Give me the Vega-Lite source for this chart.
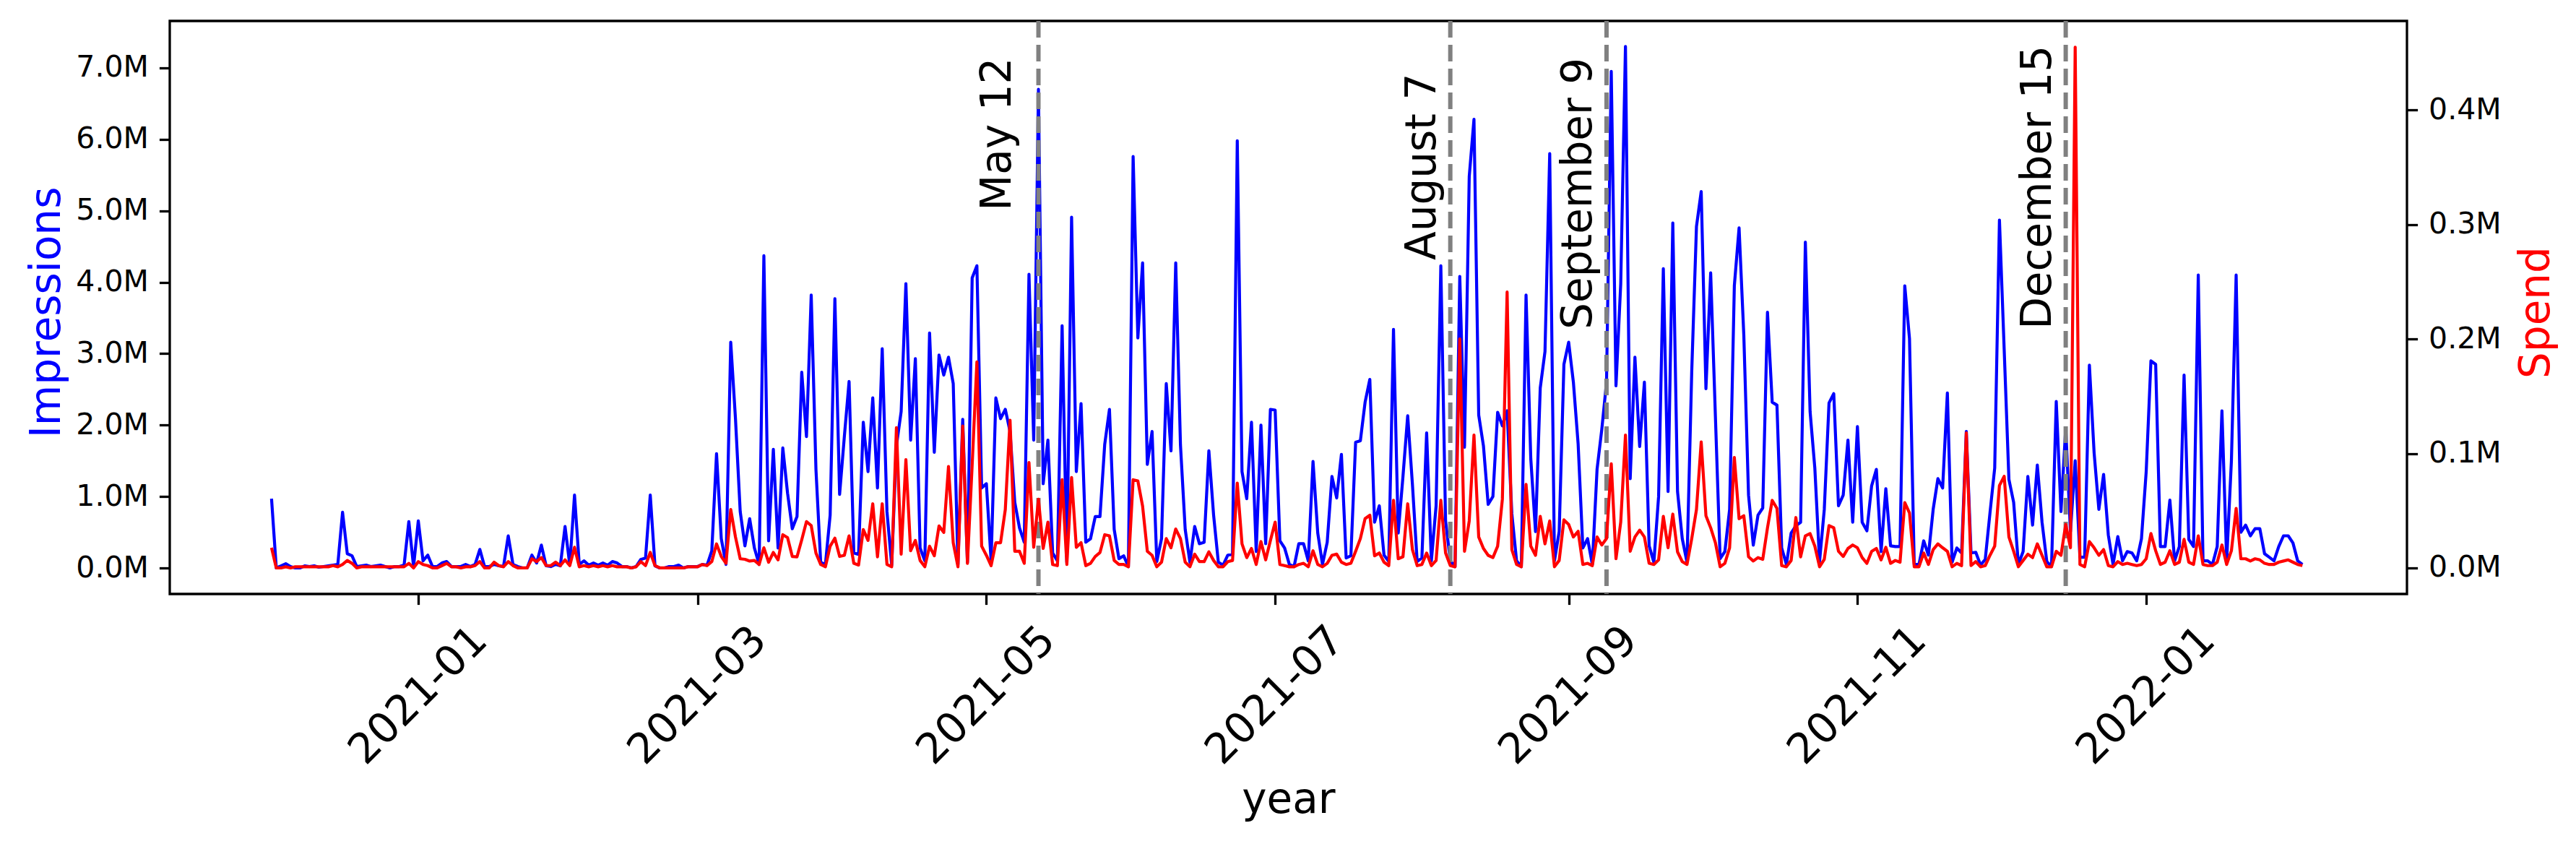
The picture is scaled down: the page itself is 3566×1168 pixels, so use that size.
{
  "$schema": "https://vega.github.io/schema/vega-lite/v6.json",
  "width": 3097,
  "height": 793,
  "autosize": {"type": "none"},
  "padding": {"left": 235, "top": 29, "right": 234, "bottom": 346},
  "background": "white",
  "config": {
    "font": "DejaVu Sans",
    "view": {"stroke": "black", "strokeWidth": 3.3},
    "axis": {"grid": false, "domain": false, "tickColor": "black", "tickWidth": 3.3, "tickSize": 14.6, "labelColor": "black", "labelFont": "DejaVu Sans", "titleFont": "DejaVu Sans", "titleFontWeight": "normal", "labelOverlap": false, "labelFlush": false, "labelLimit": 0, "titleLimit": 0}
  },
  "datasets": {
    "daily": [
{"date":"2020-12-01","impressions":970000,"spend":17600},
{"date":"2020-12-02","impressions":0,"spend":0},
{"date":"2020-12-03","impressions":30000,"spend":0},
{"date":"2020-12-04","impressions":60000,"spend":1000},
{"date":"2020-12-05","impressions":20000,"spend":0},
{"date":"2020-12-06","impressions":0,"spend":1000},
{"date":"2020-12-07","impressions":0,"spend":1000},
{"date":"2020-12-08","impressions":30000,"spend":1000},
{"date":"2020-12-09","impressions":20000,"spend":1000},
{"date":"2020-12-10","impressions":30000,"spend":1000},
{"date":"2020-12-11","impressions":10000,"spend":1000},
{"date":"2020-12-12","impressions":20000,"spend":1000},
{"date":"2020-12-13","impressions":30000,"spend":1000},
{"date":"2020-12-14","impressions":40000,"spend":2000},
{"date":"2020-12-15","impressions":50000,"spend":1000},
{"date":"2020-12-16","impressions":780000,"spend":3000},
{"date":"2020-12-17","impressions":200000,"spend":6500},
{"date":"2020-12-18","impressions":170000,"spend":4000},
{"date":"2020-12-19","impressions":20000,"spend":0},
{"date":"2020-12-20","impressions":30000,"spend":1000},
{"date":"2020-12-21","impressions":40000,"spend":1000},
{"date":"2020-12-22","impressions":20000,"spend":1000},
{"date":"2020-12-23","impressions":30000,"spend":1000},
{"date":"2020-12-24","impressions":40000,"spend":1000},
{"date":"2020-12-25","impressions":20000,"spend":1000},
{"date":"2020-12-26","impressions":0,"spend":1000},
{"date":"2020-12-27","impressions":20000,"spend":1000},
{"date":"2020-12-28","impressions":20000,"spend":1000},
{"date":"2020-12-29","impressions":40000,"spend":1000},
{"date":"2020-12-30","impressions":650000,"spend":4000},
{"date":"2020-12-31","impressions":20000,"spend":0},
{"date":"2021-01-01","impressions":660000,"spend":5500},
{"date":"2021-01-02","impressions":100000,"spend":3000},
{"date":"2021-01-03","impressions":180000,"spend":2000},
{"date":"2021-01-04","impressions":20000,"spend":0},
{"date":"2021-01-05","impressions":20000,"spend":0},
{"date":"2021-01-06","impressions":70000,"spend":2000},
{"date":"2021-01-07","impressions":90000,"spend":4000},
{"date":"2021-01-08","impressions":20000,"spend":1000},
{"date":"2021-01-09","impressions":20000,"spend":1000},
{"date":"2021-01-10","impressions":20000,"spend":0},
{"date":"2021-01-11","impressions":50000,"spend":1000},
{"date":"2021-01-12","impressions":20000,"spend":1000},
{"date":"2021-01-13","impressions":50000,"spend":2000},
{"date":"2021-01-14","impressions":260000,"spend":5500},
{"date":"2021-01-15","impressions":20000,"spend":0},
{"date":"2021-01-16","impressions":20000,"spend":0},
{"date":"2021-01-17","impressions":50000,"spend":5000},
{"date":"2021-01-18","impressions":30000,"spend":2000},
{"date":"2021-01-19","impressions":20000,"spend":1000},
{"date":"2021-01-20","impressions":450000,"spend":5500},
{"date":"2021-01-21","impressions":50000,"spend":2000},
{"date":"2021-01-22","impressions":20000,"spend":0},
{"date":"2021-01-23","impressions":0,"spend":0},
{"date":"2021-01-24","impressions":0,"spend":0},
{"date":"2021-01-25","impressions":180000,"spend":8000},
{"date":"2021-01-26","impressions":70000,"spend":5500},
{"date":"2021-01-27","impressions":320000,"spend":9000},
{"date":"2021-01-28","impressions":30000,"spend":2000},
{"date":"2021-01-29","impressions":20000,"spend":2000},
{"date":"2021-01-30","impressions":50000,"spend":5000},
{"date":"2021-01-31","impressions":30000,"spend":2000},
{"date":"2021-02-01","impressions":580000,"spend":7000},
{"date":"2021-02-02","impressions":40000,"spend":2000},
{"date":"2021-02-03","impressions":1020000,"spend":18000},
{"date":"2021-02-04","impressions":50000,"spend":1000},
{"date":"2021-02-05","impressions":100000,"spend":2000},
{"date":"2021-02-06","impressions":40000,"spend":1000},
{"date":"2021-02-07","impressions":70000,"spend":2000},
{"date":"2021-02-08","impressions":40000,"spend":1000},
{"date":"2021-02-09","impressions":70000,"spend":2000},
{"date":"2021-02-10","impressions":40000,"spend":1000},
{"date":"2021-02-11","impressions":90000,"spend":2000},
{"date":"2021-02-12","impressions":70000,"spend":1000},
{"date":"2021-02-13","impressions":20000,"spend":1000},
{"date":"2021-02-14","impressions":20000,"spend":1000},
{"date":"2021-02-15","impressions":0,"spend":0},
{"date":"2021-02-16","impressions":20000,"spend":1000},
{"date":"2021-02-17","impressions":120000,"spend":5500},
{"date":"2021-02-18","impressions":140000,"spend":2000},
{"date":"2021-02-19","impressions":1020000,"spend":13500},
{"date":"2021-02-20","impressions":30000,"spend":2000},
{"date":"2021-02-21","impressions":0,"spend":0},
{"date":"2021-02-22","impressions":0,"spend":0},
{"date":"2021-02-23","impressions":20000,"spend":0},
{"date":"2021-02-24","impressions":20000,"spend":0},
{"date":"2021-02-25","impressions":40000,"spend":0},
{"date":"2021-02-26","impressions":0,"spend":0},
{"date":"2021-02-27","impressions":20000,"spend":1000},
{"date":"2021-02-28","impressions":20000,"spend":1000},
{"date":"2021-03-01","impressions":20000,"spend":1000},
{"date":"2021-03-02","impressions":50000,"spend":3000},
{"date":"2021-03-03","impressions":40000,"spend":2000},
{"date":"2021-03-04","impressions":240000,"spend":5500},
{"date":"2021-03-05","impressions":1600000,"spend":21000},
{"date":"2021-03-06","impressions":410000,"spend":10000},
{"date":"2021-03-07","impressions":50000,"spend":4000},
{"date":"2021-03-08","impressions":3160000,"spend":51000},
{"date":"2021-03-09","impressions":2090000,"spend":27000},
{"date":"2021-03-10","impressions":790000,"spend":8000},
{"date":"2021-03-11","impressions":310000,"spend":7500},
{"date":"2021-03-12","impressions":690000,"spend":6000},
{"date":"2021-03-13","impressions":280000,"spend":6500},
{"date":"2021-03-14","impressions":50000,"spend":3000},
{"date":"2021-03-15","impressions":4370000,"spend":17600},
{"date":"2021-03-16","impressions":380000,"spend":5000},
{"date":"2021-03-17","impressions":1660000,"spend":13500},
{"date":"2021-03-18","impressions":280000,"spend":7000},
{"date":"2021-03-19","impressions":1680000,"spend":29000},
{"date":"2021-03-20","impressions":1050000,"spend":26500},
{"date":"2021-03-21","impressions":550000,"spend":10000},
{"date":"2021-03-22","impressions":720000,"spend":9700},
{"date":"2021-03-23","impressions":2740000,"spend":24600},
{"date":"2021-03-24","impressions":1840000,"spend":40500},
{"date":"2021-03-25","impressions":3820000,"spend":37000},
{"date":"2021-03-26","impressions":1380000,"spend":13000},
{"date":"2021-03-27","impressions":80000,"spend":3000},
{"date":"2021-03-28","impressions":50000,"spend":1000},
{"date":"2021-03-29","impressions":740000,"spend":19000},
{"date":"2021-03-30","impressions":3770000,"spend":26000},
{"date":"2021-03-31","impressions":1030000,"spend":10000},
{"date":"2021-04-01","impressions":1840000,"spend":11000},
{"date":"2021-04-02","impressions":2610000,"spend":28000},
{"date":"2021-04-03","impressions":210000,"spend":4000},
{"date":"2021-04-04","impressions":190000,"spend":2500},
{"date":"2021-04-05","impressions":2040000,"spend":33500},
{"date":"2021-04-06","impressions":1350000,"spend":24000},
{"date":"2021-04-07","impressions":2380000,"spend":56000},
{"date":"2021-04-08","impressions":1120000,"spend":9700},
{"date":"2021-04-09","impressions":3070000,"spend":56000},
{"date":"2021-04-10","impressions":790000,"spend":3000},
{"date":"2021-04-11","impressions":40000,"spend":1000},
{"date":"2021-04-12","impressions":1710000,"spend":122600},
{"date":"2021-04-13","impressions":2190000,"spend":12000},
{"date":"2021-04-14","impressions":3980000,"spend":94600},
{"date":"2021-04-15","impressions":1790000,"spend":15000},
{"date":"2021-04-16","impressions":2930000,"spend":24000},
{"date":"2021-04-17","impressions":280000,"spend":6500},
{"date":"2021-04-18","impressions":100000,"spend":1000},
{"date":"2021-04-19","impressions":3290000,"spend":19000},
{"date":"2021-04-20","impressions":1620000,"spend":10600},
{"date":"2021-04-21","impressions":2980000,"spend":36700},
{"date":"2021-04-22","impressions":2700000,"spend":31000},
{"date":"2021-04-23","impressions":2950000,"spend":88600},
{"date":"2021-04-24","impressions":2580000,"spend":22000},
{"date":"2021-04-25","impressions":50000,"spend":1000},
{"date":"2021-04-26","impressions":2080000,"spend":124000},
{"date":"2021-04-27","impressions":80000,"spend":4000},
{"date":"2021-04-28","impressions":4060000,"spend":90000},
{"date":"2021-04-29","impressions":4230000,"spend":180000},
{"date":"2021-04-30","impressions":1120000,"spend":19000},
{"date":"2021-05-01","impressions":1180000,"spend":11000},
{"date":"2021-05-02","impressions":100000,"spend":2000},
{"date":"2021-05-03","impressions":2380000,"spend":22000},
{"date":"2021-05-04","impressions":2090000,"spend":22000},
{"date":"2021-05-05","impressions":2220000,"spend":51000},
{"date":"2021-05-06","impressions":1910000,"spend":129000},
{"date":"2021-05-07","impressions":920000,"spend":14500},
{"date":"2021-05-08","impressions":560000,"spend":14500},
{"date":"2021-05-09","impressions":360000,"spend":4000},
{"date":"2021-05-10","impressions":4110000,"spend":92000},
{"date":"2021-05-11","impressions":1790000,"spend":18000},
{"date":"2021-05-12","impressions":6700000,"spend":60000},
{"date":"2021-05-13","impressions":1180000,"spend":17000},
{"date":"2021-05-14","impressions":1790000,"spend":40000},
{"date":"2021-05-15","impressions":210000,"spend":3000},
{"date":"2021-05-16","impressions":100000,"spend":2000},
{"date":"2021-05-17","impressions":3390000,"spend":77000},
{"date":"2021-05-18","impressions":80000,"spend":3000},
{"date":"2021-05-19","impressions":4910000,"spend":79000},
{"date":"2021-05-20","impressions":1350000,"spend":18000},
{"date":"2021-05-21","impressions":2300000,"spend":22000},
{"date":"2021-05-22","impressions":360000,"spend":2000},
{"date":"2021-05-23","impressions":410000,"spend":4000},
{"date":"2021-05-24","impressions":720000,"spend":10000},
{"date":"2021-05-25","impressions":720000,"spend":13500},
{"date":"2021-05-26","impressions":1730000,"spend":29000},
{"date":"2021-05-27","impressions":2220000,"spend":28000},
{"date":"2021-05-28","impressions":540000,"spend":6500},
{"date":"2021-05-29","impressions":130000,"spend":3000},
{"date":"2021-05-30","impressions":170000,"spend":3000},
{"date":"2021-05-31","impressions":20000,"spend":1000},
{"date":"2021-06-01","impressions":5760000,"spend":77000},
{"date":"2021-06-02","impressions":3220000,"spend":76000},
{"date":"2021-06-03","impressions":4270000,"spend":54000},
{"date":"2021-06-04","impressions":1450000,"spend":14500},
{"date":"2021-06-05","impressions":1910000,"spend":11000},
{"date":"2021-06-06","impressions":90000,"spend":1000},
{"date":"2021-06-07","impressions":410000,"spend":5000},
{"date":"2021-06-08","impressions":2580000,"spend":25600},
{"date":"2021-06-09","impressions":1640000,"spend":17600},
{"date":"2021-06-10","impressions":4270000,"spend":34000},
{"date":"2021-06-11","impressions":1720000,"spend":25600},
{"date":"2021-06-12","impressions":540000,"spend":5000},
{"date":"2021-06-13","impressions":80000,"spend":1000},
{"date":"2021-06-14","impressions":580000,"spend":12000},
{"date":"2021-06-15","impressions":340000,"spend":5500},
{"date":"2021-06-16","impressions":360000,"spend":5500},
{"date":"2021-06-17","impressions":1640000,"spend":14000},
{"date":"2021-06-18","impressions":740000,"spend":6500},
{"date":"2021-06-19","impressions":80000,"spend":1000},
{"date":"2021-06-20","impressions":40000,"spend":1000},
{"date":"2021-06-21","impressions":180000,"spend":5500},
{"date":"2021-06-22","impressions":190000,"spend":6500},
{"date":"2021-06-23","impressions":5980000,"spend":74000},
{"date":"2021-06-24","impressions":1350000,"spend":21000},
{"date":"2021-06-25","impressions":970000,"spend":9000},
{"date":"2021-06-26","impressions":2040000,"spend":17000},
{"date":"2021-06-27","impressions":230000,"spend":3000},
{"date":"2021-06-28","impressions":2000000,"spend":23000},
{"date":"2021-06-29","impressions":340000,"spend":7000},
{"date":"2021-06-30","impressions":2220000,"spend":24000},
{"date":"2021-07-01","impressions":2210000,"spend":40000},
{"date":"2021-07-02","impressions":380000,"spend":3000},
{"date":"2021-07-03","impressions":280000,"spend":2000},
{"date":"2021-07-04","impressions":50000,"spend":1000},
{"date":"2021-07-05","impressions":20000,"spend":1000},
{"date":"2021-07-06","impressions":340000,"spend":3000},
{"date":"2021-07-07","impressions":340000,"spend":4000},
{"date":"2021-07-08","impressions":100000,"spend":1000},
{"date":"2021-07-09","impressions":1490000,"spend":15000},
{"date":"2021-07-10","impressions":490000,"spend":3000},
{"date":"2021-07-11","impressions":50000,"spend":1000},
{"date":"2021-07-12","impressions":360000,"spend":4000},
{"date":"2021-07-13","impressions":1280000,"spend":11000},
{"date":"2021-07-14","impressions":980000,"spend":12000},
{"date":"2021-07-15","impressions":1590000,"spend":5000},
{"date":"2021-07-16","impressions":140000,"spend":3000},
{"date":"2021-07-17","impressions":170000,"spend":4000},
{"date":"2021-07-18","impressions":1760000,"spend":14500},
{"date":"2021-07-19","impressions":1780000,"spend":25600},
{"date":"2021-07-20","impressions":2320000,"spend":43000},
{"date":"2021-07-21","impressions":2640000,"spend":46000},
{"date":"2021-07-22","impressions":640000,"spend":10600},
{"date":"2021-07-23","impressions":870000,"spend":13000},
{"date":"2021-07-24","impressions":180000,"spend":5000},
{"date":"2021-07-25","impressions":90000,"spend":2000},
{"date":"2021-07-26","impressions":3340000,"spend":59000},
{"date":"2021-07-27","impressions":490000,"spend":8000},
{"date":"2021-07-28","impressions":1280000,"spend":9700},
{"date":"2021-07-29","impressions":2130000,"spend":56000},
{"date":"2021-07-30","impressions":1170000,"spend":16000},
{"date":"2021-07-31","impressions":90000,"spend":2000},
{"date":"2021-08-01","impressions":140000,"spend":3000},
{"date":"2021-08-02","impressions":1890000,"spend":13000},
{"date":"2021-08-03","impressions":100000,"spend":2000},
{"date":"2021-08-04","impressions":870000,"spend":6500},
{"date":"2021-08-05","impressions":4230000,"spend":59000},
{"date":"2021-08-06","impressions":660000,"spend":13000},
{"date":"2021-08-07","impressions":100000,"spend":2000},
{"date":"2021-08-08","impressions":20000,"spend":1000},
{"date":"2021-08-09","impressions":4080000,"spend":200000},
{"date":"2021-08-10","impressions":1690000,"spend":14500},
{"date":"2021-08-11","impressions":5480000,"spend":41000},
{"date":"2021-08-12","impressions":6280000,"spend":116000},
{"date":"2021-08-13","impressions":2140000,"spend":27000},
{"date":"2021-08-14","impressions":1710000,"spend":17000},
{"date":"2021-08-15","impressions":890000,"spend":11000},
{"date":"2021-08-16","impressions":1000000,"spend":9000},
{"date":"2021-08-17","impressions":2180000,"spend":19000},
{"date":"2021-08-18","impressions":1990000,"spend":60000},
{"date":"2021-08-19","impressions":2200000,"spend":241000},
{"date":"2021-08-20","impressions":760000,"spend":16000},
{"date":"2021-08-21","impressions":100000,"spend":3000},
{"date":"2021-08-22","impressions":20000,"spend":1000},
{"date":"2021-08-23","impressions":3820000,"spend":73000},
{"date":"2021-08-24","impressions":1530000,"spend":19000},
{"date":"2021-08-25","impressions":510000,"spend":11000},
{"date":"2021-08-26","impressions":2520000,"spend":45000},
{"date":"2021-08-27","impressions":3030000,"spend":21000},
{"date":"2021-08-28","impressions":5800000,"spend":41000},
{"date":"2021-08-29","impressions":100000,"spend":1000},
{"date":"2021-08-30","impressions":510000,"spend":6500},
{"date":"2021-08-31","impressions":2850000,"spend":42000},
{"date":"2021-09-01","impressions":3160000,"spend":38000},
{"date":"2021-09-02","impressions":2600000,"spend":27000},
{"date":"2021-09-03","impressions":1740000,"spend":32000},
{"date":"2021-09-04","impressions":280000,"spend":3000},
{"date":"2021-09-05","impressions":410000,"spend":4000},
{"date":"2021-09-06","impressions":50000,"spend":2000},
{"date":"2021-09-07","impressions":1380000,"spend":27000},
{"date":"2021-09-08","impressions":1940000,"spend":20000},
{"date":"2021-09-09","impressions":2600000,"spend":25600},
{"date":"2021-09-10","impressions":6950000,"spend":91000},
{"date":"2021-09-11","impressions":2550000,"spend":8000},
{"date":"2021-09-12","impressions":3980000,"spend":40000},
{"date":"2021-09-13","impressions":7300000,"spend":116000},
{"date":"2021-09-14","impressions":1250000,"spend":14500},
{"date":"2021-09-15","impressions":2950000,"spend":27000},
{"date":"2021-09-16","impressions":1700000,"spend":33000},
{"date":"2021-09-17","impressions":2600000,"spend":27000},
{"date":"2021-09-18","impressions":310000,"spend":4000},
{"date":"2021-09-19","impressions":80000,"spend":3000},
{"date":"2021-09-20","impressions":1000000,"spend":7000},
{"date":"2021-09-21","impressions":4190000,"spend":45000},
{"date":"2021-09-22","impressions":1070000,"spend":17600},
{"date":"2021-09-23","impressions":4830000,"spend":47000},
{"date":"2021-09-24","impressions":1070000,"spend":14000},
{"date":"2021-09-25","impressions":410000,"spend":5500},
{"date":"2021-09-26","impressions":80000,"spend":3000},
{"date":"2021-09-27","impressions":2750000,"spend":25600},
{"date":"2021-09-28","impressions":4780000,"spend":51000},
{"date":"2021-09-29","impressions":5270000,"spend":110000},
{"date":"2021-09-30","impressions":2510000,"spend":45600},
{"date":"2021-10-01","impressions":4130000,"spend":35000},
{"date":"2021-10-02","impressions":2120000,"spend":22000},
{"date":"2021-10-03","impressions":130000,"spend":1000},
{"date":"2021-10-04","impressions":230000,"spend":4000},
{"date":"2021-10-05","impressions":820000,"spend":17600},
{"date":"2021-10-06","impressions":3950000,"spend":96500},
{"date":"2021-10-07","impressions":4760000,"spend":43000},
{"date":"2021-10-08","impressions":3260000,"spend":45600},
{"date":"2021-10-09","impressions":1020000,"spend":9700},
{"date":"2021-10-10","impressions":320000,"spend":6000},
{"date":"2021-10-11","impressions":740000,"spend":9000},
{"date":"2021-10-12","impressions":840000,"spend":7500},
{"date":"2021-10-13","impressions":3580000,"spend":35000},
{"date":"2021-10-14","impressions":2320000,"spend":59000},
{"date":"2021-10-15","impressions":2280000,"spend":52000},
{"date":"2021-10-16","impressions":280000,"spend":2000},
{"date":"2021-10-17","impressions":50000,"spend":1000},
{"date":"2021-10-18","impressions":490000,"spend":6500},
{"date":"2021-10-19","impressions":590000,"spend":44000},
{"date":"2021-10-20","impressions":640000,"spend":9700},
{"date":"2021-10-21","impressions":4560000,"spend":28000},
{"date":"2021-10-22","impressions":2190000,"spend":30000},
{"date":"2021-10-23","impressions":1400000,"spend":19000},
{"date":"2021-10-24","impressions":90000,"spend":1000},
{"date":"2021-10-25","impressions":820000,"spend":7500},
{"date":"2021-10-26","impressions":2310000,"spend":37000},
{"date":"2021-10-27","impressions":2440000,"spend":35000},
{"date":"2021-10-28","impressions":870000,"spend":14500},
{"date":"2021-10-29","impressions":1020000,"spend":10000},
{"date":"2021-10-30","impressions":1790000,"spend":17000},
{"date":"2021-10-31","impressions":640000,"spend":20000},
{"date":"2021-11-01","impressions":1980000,"spend":17600},
{"date":"2021-11-02","impressions":640000,"spend":9000},
{"date":"2021-11-03","impressions":520000,"spend":4000},
{"date":"2021-11-04","impressions":1150000,"spend":14500},
{"date":"2021-11-05","impressions":1380000,"spend":17000},
{"date":"2021-11-06","impressions":230000,"spend":7000},
{"date":"2021-11-07","impressions":1110000,"spend":18000},
{"date":"2021-11-08","impressions":310000,"spend":4000},
{"date":"2021-11-09","impressions":300000,"spend":6500},
{"date":"2021-11-10","impressions":300000,"spend":5000},
{"date":"2021-11-11","impressions":3950000,"spend":57000},
{"date":"2021-11-12","impressions":3210000,"spend":48000},
{"date":"2021-11-13","impressions":50000,"spend":1000},
{"date":"2021-11-14","impressions":50000,"spend":1000},
{"date":"2021-11-15","impressions":380000,"spend":13000},
{"date":"2021-11-16","impressions":180000,"spend":3000},
{"date":"2021-11-17","impressions":820000,"spend":16000},
{"date":"2021-11-18","impressions":1250000,"spend":21000},
{"date":"2021-11-19","impressions":1120000,"spend":17600},
{"date":"2021-11-20","impressions":2450000,"spend":14500},
{"date":"2021-11-21","impressions":80000,"spend":1000},
{"date":"2021-11-22","impressions":280000,"spend":4000},
{"date":"2021-11-23","impressions":210000,"spend":2000},
{"date":"2021-11-24","impressions":1910000,"spend":118000},
{"date":"2021-11-25","impressions":210000,"spend":2000},
{"date":"2021-11-26","impressions":220000,"spend":5500},
{"date":"2021-11-27","impressions":40000,"spend":1000},
{"date":"2021-11-28","impressions":120000,"spend":2000},
{"date":"2021-11-29","impressions":770000,"spend":11000},
{"date":"2021-11-30","impressions":1400000,"spend":19000},
{"date":"2021-12-01","impressions":4870000,"spend":72000},
{"date":"2021-12-02","impressions":3060000,"spend":80000},
{"date":"2021-12-03","impressions":1240000,"spend":27000},
{"date":"2021-12-04","impressions":920000,"spend":14500},
{"date":"2021-12-05","impressions":50000,"spend":1000},
{"date":"2021-12-06","impressions":230000,"spend":6500},
{"date":"2021-12-07","impressions":1280000,"spend":12000},
{"date":"2021-12-08","impressions":600000,"spend":9000},
{"date":"2021-12-09","impressions":1440000,"spend":21000},
{"date":"2021-12-10","impressions":640000,"spend":11000},
{"date":"2021-12-11","impressions":90000,"spend":1000},
{"date":"2021-12-12","impressions":20000,"spend":1000},
{"date":"2021-12-13","impressions":2330000,"spend":14500},
{"date":"2021-12-14","impressions":790000,"spend":11000},
{"date":"2021-12-15","impressions":1960000,"spend":38000},
{"date":"2021-12-16","impressions":510000,"spend":17600},
{"date":"2021-12-17","impressions":1500000,"spend":455000},
{"date":"2021-12-18","impressions":150000,"spend":3000},
{"date":"2021-12-19","impressions":150000,"spend":1000},
{"date":"2021-12-20","impressions":2840000,"spend":23000},
{"date":"2021-12-21","impressions":1610000,"spend":17600},
{"date":"2021-12-22","impressions":820000,"spend":11000},
{"date":"2021-12-23","impressions":1310000,"spend":16000},
{"date":"2021-12-24","impressions":460000,"spend":2000},
{"date":"2021-12-25","impressions":50000,"spend":1000},
{"date":"2021-12-26","impressions":440000,"spend":5500},
{"date":"2021-12-27","impressions":100000,"spend":3000},
{"date":"2021-12-28","impressions":230000,"spend":4000},
{"date":"2021-12-29","impressions":210000,"spend":3000},
{"date":"2021-12-30","impressions":100000,"spend":2000},
{"date":"2021-12-31","impressions":410000,"spend":3000},
{"date":"2022-01-01","impressions":1350000,"spend":8000},
{"date":"2022-01-02","impressions":2900000,"spend":30000},
{"date":"2022-01-03","impressions":2850000,"spend":15000},
{"date":"2022-01-04","impressions":300000,"spend":3000},
{"date":"2022-01-05","impressions":300000,"spend":5000},
{"date":"2022-01-06","impressions":950000,"spend":15000},
{"date":"2022-01-07","impressions":100000,"spend":3000},
{"date":"2022-01-08","impressions":300000,"spend":5000},
{"date":"2022-01-09","impressions":2700000,"spend":25000},
{"date":"2022-01-10","impressions":400000,"spend":5000},
{"date":"2022-01-11","impressions":300000,"spend":3000},
{"date":"2022-01-12","impressions":4100000,"spend":28000},
{"date":"2022-01-13","impressions":100000,"spend":3000},
{"date":"2022-01-14","impressions":100000,"spend":2000},
{"date":"2022-01-15","impressions":50000,"spend":2000},
{"date":"2022-01-16","impressions":300000,"spend":5000},
{"date":"2022-01-17","impressions":2200000,"spend":20000},
{"date":"2022-01-18","impressions":100000,"spend":3000},
{"date":"2022-01-19","impressions":1500000,"spend":15000},
{"date":"2022-01-20","impressions":4100000,"spend":52000},
{"date":"2022-01-21","impressions":500000,"spend":8000},
{"date":"2022-01-22","impressions":600000,"spend":8000},
{"date":"2022-01-23","impressions":450000,"spend":6000},
{"date":"2022-01-24","impressions":550000,"spend":8000},
{"date":"2022-01-25","impressions":550000,"spend":7000},
{"date":"2022-01-26","impressions":200000,"spend":4000},
{"date":"2022-01-27","impressions":150000,"spend":3000},
{"date":"2022-01-28","impressions":100000,"spend":3000},
{"date":"2022-01-29","impressions":300000,"spend":5000},
{"date":"2022-01-30","impressions":450000,"spend":6000},
{"date":"2022-01-31","impressions":450000,"spend":7000},
{"date":"2022-02-01","impressions":350000,"spend":5000},
{"date":"2022-02-02","impressions":100000,"spend":3000},
{"date":"2022-02-03","impressions":50000,"spend":2000}
    ],
    "events": [
      {"date":"2021-05-12","label":"May 12","level":5000000},
      {"date":"2021-08-07","label":"August 7","level":4310000},
      {"date":"2021-09-09","label":"September 9","level":3340000},
      {"date":"2021-12-15","label":"December 15","level":3340000}
    ]
  },
  "encoding": {
    "x": {
      "field": "date", "type": "temporal",
      "scale": {"domain": [{"year": 2020, "month": 11, "date": 9, "hours": 12}, {"year": 2022, "month": 2, "date": 25, "hours": 2}]},
      "axis": {
        "title": "year", "titleFontSize": 58, "titleColor": "black", "titleBaseline": "alphabetic", "titleY": 302,
        "format": "%Y-%m", "labelFontSize": 58, "labelAngle": -45, "labelAlign": "center", "labelBaseline": "middle", "labelPadding": 126,
        "values": [{"year": 2021, "month": 1, "date": 1}, {"year": 2021, "month": 3, "date": 1}, {"year": 2021, "month": 5, "date": 1}, {"year": 2021, "month": 7, "date": 1}, {"year": 2021, "month": 9, "date": 1}, {"year": 2021, "month": 11, "date": 1}, {"year": 2022, "month": 1, "date": 1}]
      }
    }
  },
  "layer": [
    {
      "data": {"name": "daily"},
      "mark": {"type": "line", "color": "#0000ff", "strokeWidth": 4.2, "strokeJoin": "round"},
      "encoding": {
        "y": {
          "field": "impressions", "type": "quantitative",
          "scale": {"domain": [-364000, 7657000], "nice": false, "zero": false},
          "axis": {
            "orient": "left", "values": [0, 1000000, 2000000, 3000000, 4000000, 5000000, 6000000, 7000000],
            "labelExpr": "format(datum.value / 1000000, '.1f') + 'M'", "labelFontSize": 41, "labelPadding": 15,
            "title": "Impressions", "titleColor": "#0000ff", "titleFontSize": 58, "titleAngle": 270, "titleBaseline": "alphabetic", "titleAlign": "center", "titleX": -153, "titleY": 403
          }
        }
      }
    },
    {
      "data": {"name": "events"},
      "mark": {"type": "rule", "color": "#808080", "strokeWidth": 6, "strokeDash": [23, 10]},
      "encoding": {}
    },
    {
      "data": {"name": "events"},
      "transform": [{"filter": "datum.label == 'May 12'"}],
      "mark": {"type": "text", "angle": 270, "align": "left", "baseline": "alphabetic", "fontSize": 58, "color": "black", "dy": -39},
      "encoding": {
        "text": {"field": "label"},
        "y": {"field": "level", "type": "quantitative", "scale": {"domain": [-364000, 7657000], "nice": false, "zero": false}, "axis": null}
      }
    },
    {
      "data": {"name": "events"},
      "transform": [{"filter": "datum.label != 'May 12'"}],
      "mark": {"type": "text", "angle": 270, "align": "left", "baseline": "alphabetic", "fontSize": 58, "color": "black", "dy": -21},
      "encoding": {
        "text": {"field": "label"},
        "y": {"field": "level", "type": "quantitative", "scale": {"domain": [-364000, 7657000], "nice": false, "zero": false}, "axis": null}
      }
    },
    {
      "data": {"name": "daily"},
      "mark": {"type": "line", "color": "#ff0000", "strokeWidth": 4.2, "strokeJoin": "round"},
      "encoding": {
        "y": {
          "field": "spend", "type": "quantitative",
          "scale": {"domain": [-22780, 477880], "nice": false, "zero": false},
          "axis": {
            "orient": "right", "values": [0, 100000, 200000, 300000, 400000],
            "labelExpr": "format(datum.value / 1000000, '.1f') + 'M'", "labelFontSize": 41, "labelPadding": 15,
            "title": "Spend", "titleColor": "#ff0000", "titleFontSize": 58, "titleAngle": 270, "titleBaseline": "alphabetic", "titleAlign": "center", "titleX": 196, "titleY": 403
          }
        }
      }
    }
  ],
  "resolve": {"scale": {"y": "independent"}}
}
